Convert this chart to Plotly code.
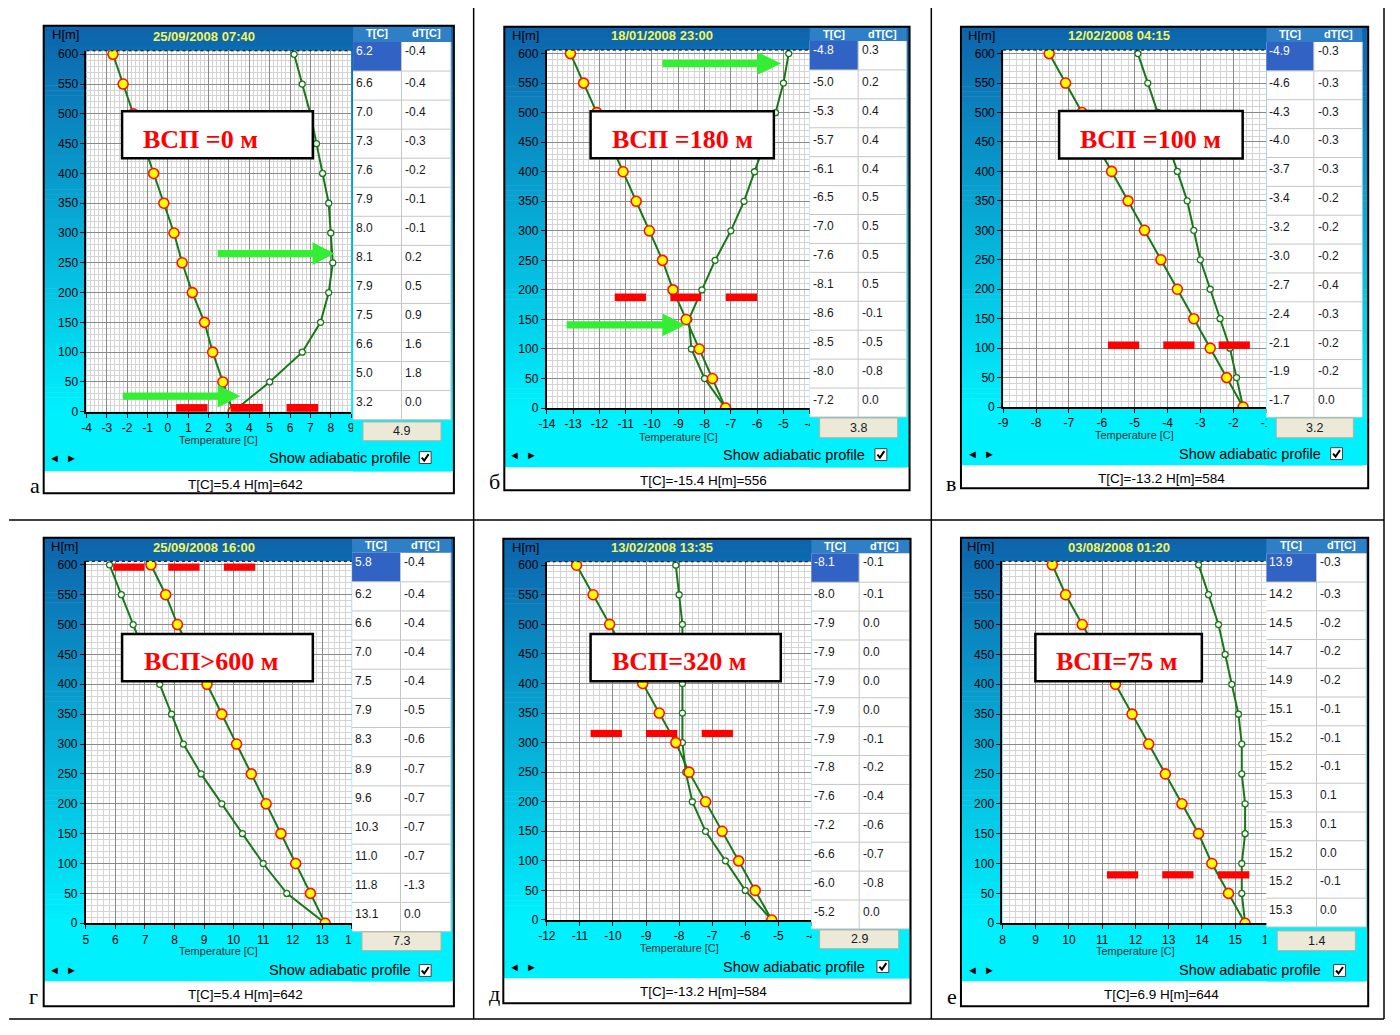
import plotly.graph_objects as go

# The page is 1400x1035 and the browser keeps its 8px body margin,
# so the figure itself is 16px smaller and every page pixel is shifted by 8.
W, H = 1400, 1035
OFF = 8
FW, FH = W - 2 * OFF, H - 2 * OFF

# ---------------- data ----------------
heights = [600, 550, 500, 450, 400, 350, 300, 250, 200, 150, 100, 50, 0]
y_ticks = [0, 50, 100, 150, 200, 250, 300, 350, 400, 450, 500, 550, 600]

letters = ["а", "б", "в", "г", "д", "е"]
dates = ["25/09/2008 07:40", "18/01/2008 23:00", "12/02/2008 04:15",
         "25/09/2008 16:00", "13/02/2008 13:35", "03/08/2008 01:20"]
vsp_labels = ["ВСП =0 м", "ВСП =180 м", "ВСП =100 м", "ВСП>600 м", "ВСП=320 м", "ВСП=75 м"]
button_values = ["4.9", "3.8", "3.2", "7.3", "2.9", "1.4"]
status_texts = ["T[C]=5.4 H[m]=642", "T[C]=-15.4 H[m]=556", "T[C]=-13.2 H[m]=584",
                "T[C]=5.4 H[m]=642", "T[C]=-13.2 H[m]=584", "T[C]=6.9 H[m]=644"]

# measured temperature profile (table column T[C]), top (600 m) to bottom (0 m)
t_a = [6.2, 6.6, 7.0, 7.3, 7.6, 7.9, 8.0, 8.1, 7.9, 7.5, 6.6, 5.0, 3.2]
t_b = [-4.8, -5.0, -5.3, -5.7, -6.1, -6.5, -7.0, -7.6, -8.1, -8.6, -8.5, -8.0, -7.2]
t_v = [-4.9, -4.6, -4.3, -4.0, -3.7, -3.4, -3.2, -3.0, -2.7, -2.4, -2.1, -1.9, -1.7]
t_g = [5.8, 6.2, 6.6, 7.0, 7.5, 7.9, 8.3, 8.9, 9.6, 10.3, 11.0, 11.8, 13.1]
t_d = [-8.1, -8.0, -7.9, -7.9, -7.9, -7.9, -7.9, -7.8, -7.6, -7.2, -6.6, -6.0, -5.2]
t_e = [13.9, 14.2, 14.5, 14.7, 14.9, 15.1, 15.2, 15.2, 15.3, 15.3, 15.2, 15.2, 15.3]

# dT[C] column
dt_a = [-0.4, -0.4, -0.4, -0.3, -0.2, -0.1, -0.1, 0.2, 0.5, 0.9, 1.6, 1.8, 0.0]
dt_b = [0.3, 0.2, 0.4, 0.4, 0.4, 0.5, 0.5, 0.5, 0.5, -0.1, -0.5, -0.8, 0.0]
dt_v = [-0.3, -0.3, -0.3, -0.3, -0.3, -0.2, -0.2, -0.2, -0.4, -0.3, -0.2, -0.2, 0.0]
dt_g = [-0.4, -0.4, -0.4, -0.4, -0.4, -0.5, -0.6, -0.7, -0.7, -0.7, -0.7, -1.3, 0.0]
dt_d = [-0.1, -0.1, 0.0, 0.0, 0.0, 0.0, -0.1, -0.2, -0.4, -0.6, -0.7, -0.8, 0.0]
dt_e = [-0.3, -0.3, -0.2, -0.2, -0.2, -0.1, -0.1, -0.1, 0.1, 0.1, 0.0, -0.1, 0.0]

# adiabatic profile (yellow points), top to bottom
ad_a = [-2.7, -2.2, -1.7, -1.2, -0.7, -0.2, 0.3, 0.7, 1.2, 1.8, 2.2, 2.7, 3.2]
ad_b = [-13.1, -12.6, -12.1, -11.6, -11.1, -10.6, -10.1, -9.6, -9.2, -8.7, -8.2, -7.7, -7.2]
ad_v = [-7.6, -7.1, -6.6, -6.2, -5.7, -5.2, -4.7, -4.2, -3.7, -3.2, -2.7, -2.2, -1.7]
ad_g = [7.2, 7.7, 8.1, 8.6, 9.1, 9.6, 10.1, 10.6, 11.1, 11.6, 12.1, 12.6, 13.1]
ad_d = [-11.1, -10.6, -10.1, -9.6, -9.1, -8.6, -8.1, -7.7, -7.2, -6.7, -6.2, -5.7, -5.2]
ad_e = [9.5, 9.9, 10.4, 10.9, 11.4, 11.9, 12.4, 12.9, 13.4, 13.9, 14.3, 14.8, 15.3]

# temperature axis ticks
xt_a = [-4, -3, -2, -1, 0, 1, 2, 3, 4, 5, 6, 7, 8, 9]
xt_b = [-14, -13, -12, -11, -10, -9, -8, -7, -6, -5, -4]
xt_v = [-9, -8, -7, -6, -5, -4, -3, -2, -1]
xt_g = [5, 6, 7, 8, 9, 10, 11, 12, 13, 14]
xt_d = [-12, -11, -10, -9, -8, -7, -6, -5, -4]
xt_e = [8, 9, 10, 11, 12, 13, 14, 15, 16]

measured = [t_a, t_b, t_v, t_g, t_d, t_e]
deltas = [dt_a, dt_b, dt_v, dt_g, dt_d, dt_e]
adiabat = [ad_a, ad_b, ad_v, ad_g, ad_d, ad_e]
x_ticks = [xt_a, xt_b, xt_v, xt_g, xt_d, xt_e]

# ---------------- geometry (page pixels) ----------------
GEOM = [
    dict(box=(35, 23, 450, 495), plot=(78.3, 346.0), y600=51.7, y0=412.7, tab=(348, 397, 447),
         rows=(39.3, 420.7), btn=(358, 423, 437, 442), show_y=459, status_y=486, letter=(26, 487),
         title=(197, 34), hm=(57, 32), temp_y=441, nav_x=55, show_x=408, chk_x=421),
    dict(box=(501, 24, 911, 492), plot=(544.0, 810.0), y600=51.0, y0=409.0, tab=(810, 859, 908),
         rows=(38.3, 418.0), btn=(820, 419, 899, 439), show_y=456, status_y=482, letter=(491, 483),
         title=(661, 33), hm=(522, 33), temp_y=438, nav_x=520, show_x=867, chk_x=882),
    dict(box=(963, 24, 1375, 490), plot=(1005.7, 1271.7), y600=51.0, y0=408.0, tab=(1272, 1320, 1369),
         rows=(39.3, 418.3), btn=(1282, 419, 1360, 439), show_y=455, status_y=480, letter=(953, 485),
         title=(1123, 33), hm=(984, 33), temp_y=436, nav_x=983, show_x=1328, chk_x=1343),
    dict(box=(35, 540, 450, 1013), plot=(77.7, 346.7), y600=567.3, y0=929.3, tab=(347, 396, 447),
         rows=(555.0, 937.7), btn=(357, 938, 437, 957), show_y=977, status_y=1001, letter=(25, 1003),
         title=(197, 550), hm=(56, 549), temp_y=957, nav_x=55, show_x=408, chk_x=421),
    dict(box=(500, 541, 912, 1010), plot=(544.0, 811.7), y600=567.7, y0=926.0, tab=(811.7, 860, 911),
         rows=(555.7, 935.0), btn=(820, 936, 900, 955), show_y=973, status_y=998, letter=(491, 1000),
         title=(661, 550), hm=(522, 550), temp_y=954, nav_x=520, show_x=867, chk_x=884),
    dict(box=(963, 540, 1375, 1013), plot=(1005.0, 1274.0), y600=567.3, y0=929.3, tab=(1272, 1322.7, 1373),
         rows=(555.7, 933.0), btn=(1283, 937, 1362, 957), show_y=977, status_y=1001, letter=(954, 1003),
         title=(1123, 550), hm=(983, 549), temp_y=957, nav_x=983, show_x=1328, chk_x=1346),
]

VSP_BOX = [(114.3, 109.3, 307.3, 156.7), (588.3, 109.3, 773.7, 156.7), (1062.3, 109, 1248, 157),
           (114.3, 637.3, 307.3, 685), (588.3, 637.3, 780.7, 685), (1038.3, 637.3, 1206.7, 685)]
VSP_TEXT = [(194, 137.5), (681, 137.5), (1155, 137.5), (204, 665), (678, 665), (1120.5, 665)]

RED_BARS = [
    ((405, 412.7), [(169, 200.7), (224.3, 256.7), (280.7, 312.7)]),
    ((293.3, 301), [(612.7, 644.3), (669, 700.3), (725, 756.7)]),
    ((341.7, 349.3), [(1111.7, 1143.3), (1167.7, 1199.3), (1223.7, 1255.3)]),
    ((566, 573.3), [(105.3, 136.7), (161, 192.7), (217.3, 249)]),
    ((734, 741.3), [(588.3, 620), (644.3, 676), (700.7, 732.3)]),
    ((876.7, 884), [(1110.7, 1142.3), (1166.7, 1198.3), (1223, 1254.7)]),
]
# arrows: tail x, tip x, centre y, head length
ARROWS = [(211, 329, 253, 22), (115, 234, 397, 23), (661, 781, 61, 24), (564, 684, 325, 23)]

SANS = "Liberation Sans, Arial, sans-serif"
SERIF = "Liberation Serif, Times New Roman, serif"
GREEN = "#187818"


def px(x):
    return (x - OFF) / FW


def py(y):
    return 1 - (y - OFF) / FH


shapes = []
annotations = []


def rect(x0, y0, x1, y1, fill=None, line=None, lw=0, layer="below"):
    d = dict(type="rect", xref="paper", yref="paper", x0=px(x0), x1=px(x1), y0=py(y1), y1=py(y0),
             layer=layer, line=dict(width=lw, color=line if line else "rgba(0,0,0,0)"))
    if fill:
        d["fillcolor"] = fill
    shapes.append(d)


def seg(x0, y0, x1, y1, color, width=1, layer="above", dash=None):
    ln = dict(color=color, width=width)
    if dash:
        ln["dash"] = dash
    shapes.append(dict(type="line", xref="paper", yref="paper", x0=px(x0), x1=px(x1),
                       y0=py(y0), y1=py(y1), line=ln, layer=layer))


def path(points, fill=None, color=None, width=0, layer="above", closed=True):
    s = "M " + " L ".join(f"{px(x):.5f},{py(y):.5f}" for x, y in points)
    if closed:
        s += " Z"
    d = dict(type="path", xref="paper", yref="paper", path=s, layer=layer,
             line=dict(width=width, color=color if color else "rgba(0,0,0,0)"))
    if fill:
        d["fillcolor"] = fill
    shapes.append(d)


def text(x, y, s, size=12, color="black", family=SANS, xanchor="center", yanchor="middle"):
    annotations.append(dict(x=px(x), y=py(y), xref="paper", yref="paper", text=s, showarrow=False,
                            xanchor=xanchor, yanchor=yanchor, borderpad=0,
                            font=dict(size=size, color=color, family=family)))


fig = go.Figure()
layout_axes = {}

c_top = (14, 100, 172)
c_bot = (0, 240, 254)

for i, g in enumerate(GEOM):
    n = i + 1
    sfx = "" if n == 1 else str(n)
    bx0, by0, bx1, by1 = g["box"]
    status_top = g["status_y"] - 13
    # gradient background of the window
    span = status_top - by0
    y = by0
    while y < status_top:
        t = min(1.0, (y - by0) / (span * 0.86))
        c = tuple(int(round(c_top[k] + (c_bot[k] - c_top[k]) * t)) for k in range(3))
        rect(bx0, y, bx1, min(y + 5.6, status_top), fill=f"rgb{c}")
        y += 5
    rect(bx0, status_top, bx1, by1, fill="white")

    L, R = g["plot"]
    y600, y0 = g["y600"], g["y0"]
    top = y600 - 3.5
    scale = (y0 - y600) / 600.0
    rect(L, top, R, y0, fill="white")

    xr = x_ticks[i]
    layout_axes["xaxis" + sfx] = dict(
        domain=[px(L), px(R)], range=[xr[0], xr[-1]], anchor="y" + sfx,
        tickmode="array", tickvals=xr, ticktext=[str(v) for v in xr],
        showgrid=True, gridcolor="#8a8a8a", gridwidth=1,
        minor=dict(tickmode="linear", tick0=0, dtick=0.2, showgrid=True, gridcolor="#d4d4d4", gridwidth=1),
        showline=True, linecolor="black", linewidth=2, ticks="outside", ticklen=4, tickcolor="black",
        tickfont=dict(size=12, family=SANS, color="black"), zeroline=False, fixedrange=True,
    )
    layout_axes["yaxis" + sfx] = dict(
        domain=[py(y0), py(top)], range=[0, 600 + 3.5 / scale], anchor="x" + sfx,
        tickmode="array", tickvals=y_ticks, ticktext=[str(v) for v in y_ticks],
        showgrid=True, gridcolor="#8a8a8a", gridwidth=1,
        minor=dict(tickmode="linear", tick0=0, dtick=10, showgrid=True, gridcolor="#d4d4d4", gridwidth=1),
        showline=True, linecolor="black", linewidth=2, ticks="outside", ticklen=4, tickcolor="black",
        tickfont=dict(size=12, family=SANS, color="black"), zeroline=False, fixedrange=True,
    )

    fig.add_trace(go.Scatter(
        x=measured[i], y=heights, xaxis="x" + sfx, yaxis="y" + sfx, mode="lines+markers",
        line=dict(color=GREEN, width=2),
        marker=dict(size=6, color="white", line=dict(color=GREEN, width=1.3)),
        showlegend=False, hoverinfo="skip"))
    fig.add_trace(go.Scatter(
        x=adiabat[i], y=heights, xaxis="x" + sfx, yaxis="y" + sfx, mode="lines+markers",
        line=dict(color=GREEN, width=2),
        marker=dict(size=10, color="#ffff00", line=dict(color="#ff1010", width=1.6)),
        showlegend=False, hoverinfo="skip"))

    # dotted top border of plot
    seg(L, top, R, top, "black", 1, dash="dot")

    # table
    tL, tM, tR = g["tab"]
    rt, rb = g["rows"]
    rh = (rb - rt) / 13.0
    rect(tL, by0 + 1, tR, rt, fill="#2f7fc6", layer="above")
    rect(tL, rt, tR, rb, fill="white", layer="above")
    rect(tL, rb, tR, status_top, fill=f"rgb{c_bot}", layer="above")
    rect(tL, rt, tM, rt + rh, fill="#3163c4", layer="above")
    for k in range(1, 14):
        seg(tL, rt + k * rh, tR, rt + k * rh, "#c6c6c6", 1)
    seg(tM, rt, tM, rb, "#c6c6c6", 1)
    seg(tR, rt, tR, rb, "#c6c6c6", 1)
    text((tL + tM) / 2, by0 + 7.5, "<b>T[C]</b>", 11, "white")
    text((tM + tR) / 2, by0 + 7.5, "<b>dT[C]</b>", 11, "white")
    for r in range(13):
        yy = rt + r * rh + (9 if r == 0 else 12)
        text(tL + 2, yy, f"{measured[i][r]:.1f}", 12, "white" if r == 0 else "#1a1a1a", xanchor="left")
        text(tM + 3, yy, f"{deltas[i][r]:.1f}", 12, "#1a1a1a", xanchor="left")

    # value button
    b0, b1, b2, b3 = g["btn"]
    rect(b0, b1, b2, b3, fill="#ece9d8", line="#b4b0a0", lw=1, layer="above")
    text((b0 + b2) / 2, (b1 + b3) / 2, button_values[i], 12.5, "#1a1a1a")

    # labels
    text(g["title"][0], g["title"][1], "<b>" + dates[i] + "</b>", 13, "#f4f45a")
    text(g["hm"][0], g["hm"][1], "H[m]", 13, "black")
    text((L + R) / 2, g["temp_y"], "Temperature [C]", 11, "#303030")
    text(g["nav_x"], g["show_y"], "◄  ►", 11, "black")
    text(g["show_x"], g["show_y"], "Show adiabatic profile", 14.5, "black", xanchor="right")
    cx, cy = g["chk_x"], g["show_y"]
    rect(cx - 6, cy - 6, cx + 6, cy + 6, fill="white", line="#404040", lw=1, layer="above")
    path([(cx - 3.5, cy), (cx - 1, cy + 3), (cx + 3.5, cy - 3.5)], color="black", width=2, closed=False)
    text((bx0 + bx1) / 2 - 3, g["status_y"], status_texts[i], 13.5, "black")

    # window border
    rect(bx0, by0, bx1, by1, line="black", lw=2, layer="above")
    text(g["letter"][0], g["letter"][1], letters[i], 22, "black", family=SERIF)

    # ВСП label box
    v = VSP_BOX[i]
    rect(v[0], v[1], v[2], v[3], fill="white", line="black", lw=2.5, layer="above")
    text(VSP_TEXT[i][0], VSP_TEXT[i][1], "<b>" + vsp_labels[i] + "</b>", 26, "#ff0000", family=SERIF)

    # red dashes marking the ВСП level
    (ry0, ry1), bars = RED_BARS[i]
    for (rx0, rx1) in bars:
        rect(rx0, ry0, rx1, ry1, fill="#ff0000", layer="above")

# green arrows
for (xt, xp, yc, hl) in ARROWS:
    s, hh = 3.7, 11.5
    path([(xt, yc - s), (xp - hl, yc - s), (xp - hl, yc - hh), (xp, yc), (xp - hl, yc + hh),
          (xp - hl, yc + s), (xt, yc + s)], fill="#33ee33")

# document table grid lines
for x in (470, 933, 1391):
    seg(x, 0, x, 1026, "black", 1.5)
for y in (522, 1026):
    seg(0, y, 1391, y, "black", 1.5)

fig.update_layout(
    width=FW, height=FH, margin=dict(l=0, r=0, t=0, b=0),
    paper_bgcolor="white", plot_bgcolor="rgba(0,0,0,0)",
    shapes=shapes, annotations=annotations, showlegend=False,
    **layout_axes,
)

fig.write_html("out.html", config={"displayModeBar": False, "staticPlot": True})
